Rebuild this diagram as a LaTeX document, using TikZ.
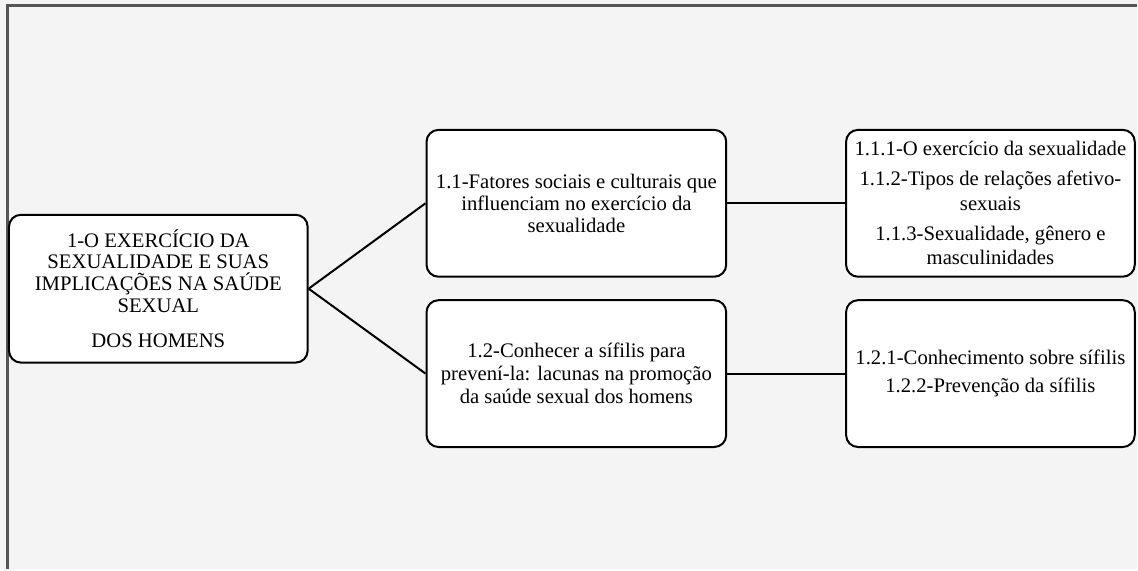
\documentclass[tikz,border=0pt]{standalone}
\usepackage{fontspec}
\setmainfont{Liberation Serif}
\usetikzlibrary{positioning}
\definecolor{pagebg}{HTML}{F4F4F4}
\definecolor{framec}{HTML}{555555}
\tikzset{
  topic/.style={draw=black,line width=2pt,rounded corners=12pt,fill=white,align=center,inner sep=2pt,font=\fontsize{20.7}{22}\selectfont},
  subtopic/.style={topic,font=\fontsize{20.7}{24.5}\selectfont},
  link/.style={line width=2pt,black}
}
\begin{document}
\begin{tikzpicture}[x=1pt,y=-1pt]
\fill[pagebg] (0,0) rectangle (1138,570);
\draw[framec,line width=2.5pt] (7.5,570)--(7.5,5.5)--(1138,5.5);
% root theme
\node[topic,minimum width=299pt,minimum height=148pt] (root) at (158.5,289) {1-O EXERCÍCIO DA\\SEXUALIDADE E SUAS\\IMPLICAÇÕES NA SAÚDE\\SEXUAL\\[13pt]DOS HOMENS};
% categories
\node[topic,minimum width=300pt,minimum height=147pt] (cat11) at (577,203.5) {1.1-Fatores sociais e culturais que\\influenciam no exercício da\\sexualidade};
\node[topic,font=\fontsize{20.7}{23}\selectfont,minimum width=300pt,minimum height=147pt] (cat12) at (577,374) {1.2-Conhecer a sífilis para\\prevení-la: lacunas na promoção\\da saúde sexual dos homens};
% subcategories
\node[subtopic,minimum width=289pt,minimum height=147pt] (sub11) at (991.5,203.5) {1.1.1-O exercício da sexualidade\\[5.5pt]1.1.2-Tipos de relações afetivo-\\sexuais\\[5.5pt]1.1.3-Sexualidade, gênero e\\masculinidades};
\node[subtopic,minimum width=289pt,minimum height=147pt] (sub12) at (991.5,374) {1.2.1-Conhecimento sobre sífilis\\[3pt]1.2.2-Prevenção da sífilis};
\draw[link] (root.east)--(cat11.west);
\draw[link] (root.east)--(cat12.west);
\draw[link] (cat11.east)--(sub11.west);
\draw[link] (cat12.east)--(sub12.west);
\end{tikzpicture}
\end{document}
